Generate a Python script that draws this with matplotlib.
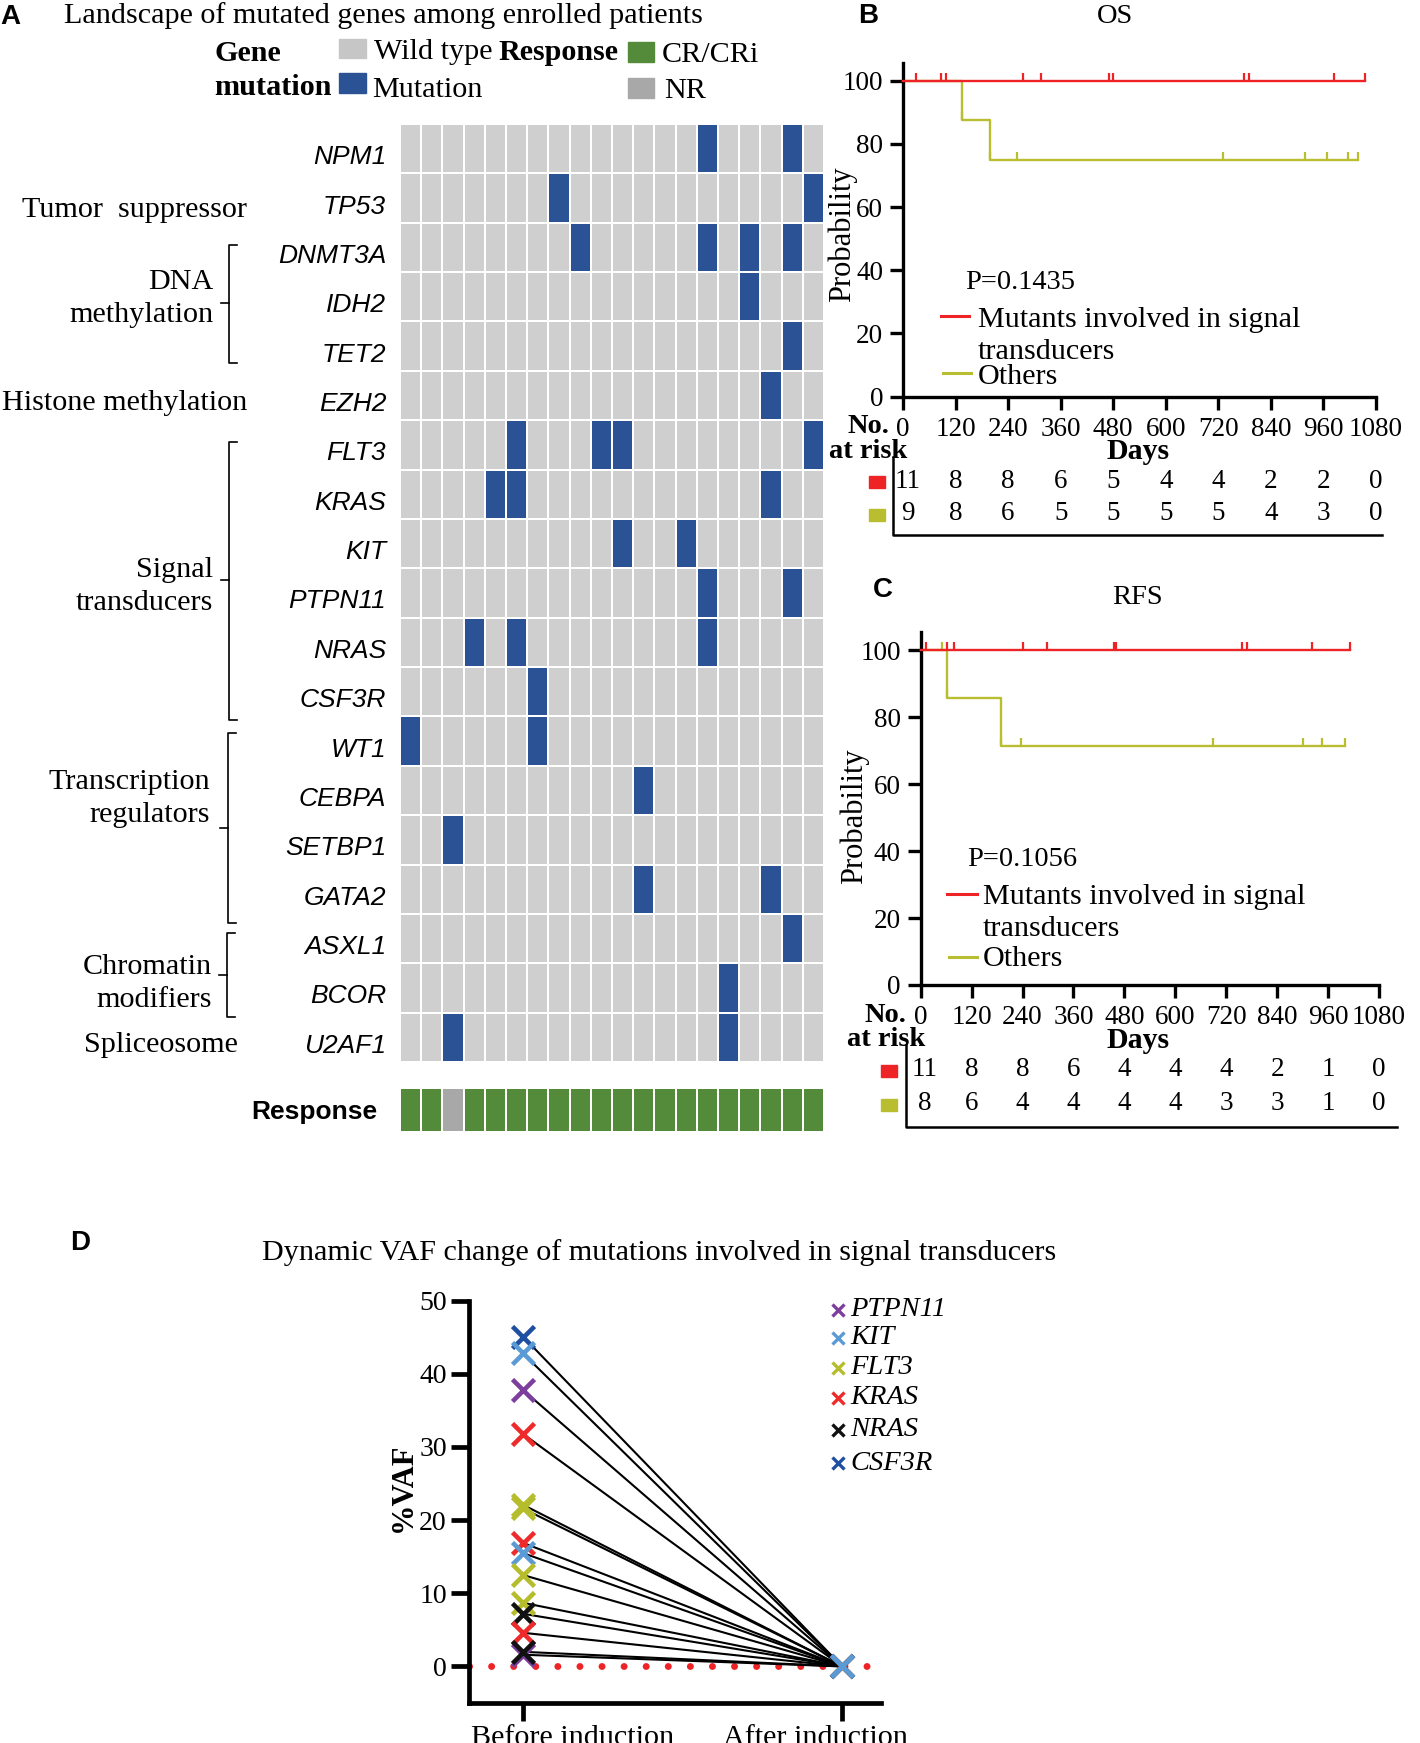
import numpy as np
import matplotlib
matplotlib.use('Agg')
import matplotlib.pyplot as plt
from matplotlib.colors import ListedColormap
from matplotlib.patches import Rectangle
from matplotlib.transforms import blended_transform_factory, ScaledTranslation

# ---------------- data ----------------
genes = ['NPM1', 'TP53', 'DNMT3A', 'IDH2', 'TET2', 'EZH2', 'FLT3', 'KRAS', 'KIT',
         'PTPN11', 'NRAS', 'CSF3R', 'WT1', 'CEBPA', 'SETBP1', 'GATA2', 'ASXL1',
         'BCOR', 'U2AF1']
n_patients = 20
mutated_patients = {
    'NPM1': [14, 18], 'TP53': [7, 19], 'DNMT3A': [8, 14, 16, 18], 'IDH2': [16],
    'TET2': [18], 'EZH2': [17], 'FLT3': [5, 9, 10, 19], 'KRAS': [4, 5, 17],
    'KIT': [10, 13], 'PTPN11': [14, 18], 'NRAS': [3, 5, 14], 'CSF3R': [6],
    'WT1': [0, 6], 'CEBPA': [11], 'SETBP1': [2], 'GATA2': [11, 17],
    'ASXL1': [18], 'BCOR': [15], 'U2AF1': [2, 15]}
response = ['CR/CRi', 'CR/CRi', 'NR'] + ['CR/CRi'] * 17

# gene categories: (label lines, first row, last row, bracket?)
categories = [
    (['Tumor  suppressor'], 1, 1, False),
    (['DNA', 'methylation'], 2, 4, True),
    (['Histone methylation'], 5, 5, False),
    (['Signal', 'transducers'], 6, 11, True),
    (['Transcription', 'regulators'], 12, 15, True),
    (['Chromatin', 'modifiers'], 16, 17, True),
    (['Spliceosome'], 18, 18, False),
]

day_ticks = list(range(0, 1081, 120))
# OS
os_mut_end = 1056
os_mut_censor = [30, 86, 99, 274, 316, 470, 479, 779, 791, 984, 1056]
os_oth_events = [135, 198]
os_oth_surv = [100, 87.5, 75.0]
os_oth_end = 1039
os_oth_censor = [135, 198, 260, 731, 918, 969, 1016, 1039]
os_risk_mut = [11, 8, 8, 6, 5, 4, 4, 2, 2, 0]
os_risk_oth = [9, 8, 6, 5, 5, 5, 5, 4, 3, 0]
os_p = 'P=0.1435'
# RFS
rfs_mut_end = 1011
rfs_mut_censor = [12, 61, 78, 240, 297, 456, 460, 758, 768, 922, 1011]
rfs_oth_events = [61, 189]
rfs_oth_surv = [100, 85.7, 71.4]
rfs_oth_end = 999
rfs_oth_censor = [51, 61, 189, 236, 689, 900, 946, 999]
rfs_risk_mut = [11, 8, 8, 6, 4, 4, 4, 2, 1, 0]
rfs_risk_oth = [8, 6, 4, 4, 4, 4, 3, 3, 1, 0]
rfs_p = 'P=0.1056'

# VAF
vaf_gene = ['CSF3R', 'KIT', 'PTPN11', 'KRAS', 'FLT3', 'FLT3', 'KRAS', 'KIT',
            'FLT3', 'FLT3', 'NRAS', 'KRAS', 'PTPN11', 'NRAS']
vaf_before = [45.1, 42.8, 37.8, 31.8, 22.1, 21.6, 16.9, 15.5, 12.5, 8.7, 7.2, 4.6, 1.6, 2.0]
vaf_after = [0] * 14
vaf_legend = ['PTPN11', 'KIT', 'FLT3', 'KRAS', 'NRAS', 'CSF3R']
vaf_timepoints = ['Before induction', 'After induction']

# ---------------- style ----------------
W, H = 1420, 1743
SERIF = 'Liberation Serif'
SANS = 'Liberation Sans'
plt.rcParams['font.family'] = [SERIF, 'DejaVu Serif']
GRAY = '#CFCFCF'
BLUE = '#2A5294'
GREEN = '#538B3A'
NRGRAY = '#A8A8A8'
RED = '#EE2326'
OLIVE = '#B9BD30'
vaf_colors = {'PTPN11': '#7D3F9E', 'KIT': '#5B9BD5', 'FLT3': '#B5BD2C',
              'KRAS': '#EE2A2A', 'NRAS': '#111111', 'CSF3R': '#1F4FA0'}
FS = 21.7  # serif label size

fig = plt.figure(figsize=(W / 100, H / 100), dpi=100)


def add_ax(x0, y0, x1, y1):
    return fig.add_axes([x0 / W, 1 - y1 / H, (x1 - x0) / W, (y1 - y0) / H])


def shift(text, dx_px, dy_px):
    text.set_transform(text.get_transform() +
                       ScaledTranslation(dx_px / 100, -dy_px / 100, fig.dpi_scale_trans))


# ---------------- heatmap ----------------
hm = add_ax(400, 124, 824, 1062)
mat = np.zeros((len(genes), n_patients))
for i, g in enumerate(genes):
    for c in mutated_patients[g]:
        mat[i, c] = 1
hm.pcolormesh(np.arange(n_patients + 1), np.arange(len(genes) + 1), mat,
              cmap=ListedColormap([GRAY, BLUE]), vmin=0, vmax=1,
              edgecolors='white', linewidth=1.2)
hm.set_xlim(0, n_patients)
hm.set_ylim(len(genes), 0)
for s in hm.spines.values():
    s.set_visible(False)
hm.set_xticks([])
hm.set_yticks(np.arange(len(genes)) + 0.5)
hm.set_yticklabels(genes, fontfamily=SANS, fontstyle='italic', fontsize=19)
hm.tick_params(axis='y', length=0, pad=10)
for t in hm.get_yticklabels():
    shift(t, 0, 6)

rs = add_ax(400, 1088, 824, 1132)
rcode = np.array([[0 if r == 'CR/CRi' else 1 for r in response]])
rs.pcolormesh(np.arange(n_patients + 1), [0, 1], rcode,
              cmap=ListedColormap([GREEN, NRGRAY]), vmin=0, vmax=1,
              edgecolors='white', linewidth=1.2)
rs.set_xlim(0, n_patients)
rs.set_ylim(0, 1)
for s in rs.spines.values():
    s.set_visible(False)
rs.set_xticks([])
rs.set_yticks([0.5])
rs.set_yticklabels(['Response'], fontfamily=SANS, fontweight='bold', fontsize=19)
rs.tick_params(axis='y', length=0, pad=16)


# ---------------- KM panels ----------------
def km(ax, mut_end, mut_cens, oth_ev, oth_surv, oth_end, oth_cens):
    ax.plot([0, mut_end], [100, 100], color=RED, lw=1.7, clip_on=False, zorder=3)
    ax.plot(mut_cens, [100] * len(mut_cens), ls='none', marker=2, ms=5.5, mew=1.6,
            color=RED, clip_on=False, zorder=3)
    xs = [0] + oth_ev + [oth_end]
    ys = oth_surv + [oth_surv[-1]]
    ax.step(xs, ys, where='post', color=OLIVE, lw=1.7, clip_on=False, zorder=2)
    cy = [oth_surv[np.searchsorted(oth_ev, t, side='right')] for t in oth_cens]
    ax.plot(oth_cens, cy, ls='none', marker=2, ms=5.5, mew=1.6, color=OLIVE,
            clip_on=False, zorder=2)
    ax.set_xlim(0, 1080)
    ax.set_ylim(0, 105.6)
    for s in ['top', 'right']:
        ax.spines[s].set_visible(False)
    for s in ['left', 'bottom']:
        ax.spines[s].set_linewidth(2.4)
    ax.set_xticks(day_ticks, [str(d) for d in day_ticks], fontfamily=SERIF)
    ax.set_yticks(range(0, 101, 20), [str(v) for v in range(0, 101, 20)], fontfamily=SERIF)
    ax.tick_params(direction='out', length=9.4, width=2.4, pad=5, labelsize=19.5)
    ax.patch.set_alpha(0)


kmB = add_ax(903, 63, 1376, 396.7)
km(kmB, os_mut_end, os_mut_censor, os_oth_events, os_oth_surv, os_oth_end, os_oth_censor)
kmC = add_ax(920.7, 631.7, 1379, 985)
km(kmC, rfs_mut_end, rfs_mut_censor, rfs_oth_events, rfs_oth_surv, rfs_oth_end, rfs_oth_censor)

# ---------------- VAF panel ----------------
axD = add_ax(469, 1300.7, 881, 1703)
for b, a in zip(vaf_before, vaf_after):
    axD.plot([0, 1], [b, a], color='black', lw=1.5, zorder=2)
axD.plot([-0.169, 1.087], [0, 0], color=RED, lw=5.0, ls=(0, (0.01, 3.17)),
         dash_capstyle='round', zorder=1, clip_on=False)
for g, b in zip(vaf_gene, vaf_before):
    axD.plot([0], [b], ls='none', marker='x', ms=15.5, mew=3.3, color=vaf_colors[g], zorder=3)
order_after = [k for k in range(len(vaf_gene)) if vaf_gene[k] != 'KIT'] + \
              [k for k in range(len(vaf_gene)) if vaf_gene[k] == 'KIT']
for k in order_after:
    axD.plot([1], [vaf_after[k]], ls='none', marker='x', ms=15.5, mew=3.3,
             color=vaf_colors[vaf_gene[k]], zorder=3)
axD.set_xlim(-0.169, 1.122)
axD.set_ylim(-5, 50)
for s in ['top', 'right']:
    axD.spines[s].set_visible(False)
for s in ['left', 'bottom']:
    axD.spines[s].set_linewidth(3.4)
axD.spines['left'].set_bounds(-5, 50)
axD.set_yticks(range(0, 51, 10), [str(v) for v in range(0, 51, 10)], fontfamily=SERIF)
axD.set_xticks([0, 1], vaf_timepoints, fontfamily=SERIF, fontsize=FS)
axD.tick_params(direction='out', length=13, width=3.4, pad=3)
axD.tick_params(axis='y', labelsize=20)
xl = axD.get_xticklabels()
shift(xl[0], 50, 0)
shift(xl[1], -27, 0)
axD.patch.set_alpha(0)

# ---------------- overlay (pixel coords) ----------------
ov = fig.add_axes([0, 0, 1, 1])
ov.set_xlim(0, W)
ov.set_ylim(H, 0)
ov.axis('off')


def T(x, y, s, **kw):
    kw.setdefault('va', 'center')
    kw.setdefault('fontsize', FS)
    ov.text(x, y, s, **kw)


# Panel A header
T(0, 17, 'A', fontfamily=SANS, fontweight='bold', fontsize=20)
T(64, 16, 'Landscape of mutated genes among enrolled patients')
T(214, 53, 'Gene', fontweight='bold')
T(214, 87, 'mutation', fontweight='bold')
ov.add_patch(Rectangle((339, 39), 27, 19, color='#C6C6C6'))
ov.add_patch(Rectangle((339, 73), 27, 20, color=BLUE))
T(374, 52, 'Wild type')
T(372, 90, 'Mutation')
T(498, 52, 'Response', fontweight='bold')
ov.add_patch(Rectangle((628, 42), 26, 20, color=GREEN))
ov.add_patch(Rectangle((628, 78), 26, 20, color=NRGRAY))
T(662, 55, 'CR/CRi')
T(664, 91, 'NR')

# categories
label_pos = {
    'Tumor  suppressor': (247, 210), 'DNA': (213, 282), 'methylation': (213, 315),
    'Histone methylation': (247, 403), 'Signal': (213, 570), 'transducers': (213, 603),
    'Transcription': (210, 782), 'regulators': (210, 815), 'Chromatin': (212, 967),
    'modifiers': (212, 1000), 'Spliceosome': (238, 1045)}
brackets = {1: (229, 245, 303, 363), 3: (229, 442, 580, 720),
            4: (228, 733, 828, 923), 5: (227, 933, 975, 1017)}
for ci, (lines, r0, r1, br) in enumerate(categories):
    for ln in lines:
        x, y = label_pos[ln]
        T(x, y, ln, ha='right')
    if br:
        bx, top, mid, bot = brackets[ci]
        ov.plot([bx + 8, bx, bx, bx + 8], [top, top, bot, bot], color='black', lw=1.2)
        ov.plot([bx - 8, bx], [mid, mid], color='black', lw=1.2)

# KM text
for (ax, lab, lx, ly, title, tx, ty, ylx, yly, p, px, py, lg, risk_m, risk_o,
     r1, r2, sqx, box) in [
    (kmB, 'B', 868, 16, 'OS', 1115, 16, 842, 234, os_p, 965, 282,
     (941, 969, 316, 978, 320, 352, 943, 971, 373, 377), os_risk_mut, os_risk_oth,
     481, 514, 869, (893, 457, 535, 1382)),
    (kmC, 'C', 883, 590, 'RFS', 1137, 597, 854, 816, rfs_p, 967, 859,
     (947, 977, 894, 983, 897, 929, 949, 977, 957, 959), rfs_risk_mut, rfs_risk_oth,
     1070, 1104, 881, (906, 1045, 1127, 1397))]:
    T(lx, ly, lab, fontfamily=SANS, fontweight='bold', fontsize=20, ha='center')
    T(tx, ty, title, ha='center', fontsize=20.5)
    T(ylx, yly, 'Probability', rotation=90, ha='center', fontsize=22)
    T(px, py, p, fontsize=20.5)
    rx0, rx1, ry, tx0, tty, tty2, gx0, gx1, gy, gty = lg
    ov.plot([rx0, rx1], [ry, ry], color=RED, lw=2.2)
    T(tx0, tty, 'Mutants involved in signal')
    T(tx0, tty2, 'transducers')
    ov.plot([gx0, gx1], [gy, gy], color=OLIVE, lw=2.2)
    T(tx0, gty, 'Others')
    axis_y = H - ax.get_position().y0 * H
    xlab_y = axis_y + 30
    T(ax.get_position().x0 * W - 35, xlab_y, 'No.', fontweight='bold', ha='center', fontsize=20.5)
    T(ax.get_position().x0 * W - 35, xlab_y + 25, 'at risk', fontweight='bold', ha='center', fontsize=20.5)
    T(1138, xlab_y + 25, 'Days', fontweight='bold', ha='center', fontsize=21.5)
    tr = blended_transform_factory(ax.transData, ov.transData)
    for k, d in enumerate(day_ticks):
        dx = d + (10 if k == 0 else 0)
        ax.text(dx, r1, str(risk_m[k]), transform=tr, ha='center', va='center', fontsize=19.5)
        ax.text(dx, r2, str(risk_o[k]), transform=tr, ha='center', va='center', fontsize=19.5)
    ov.add_patch(Rectangle((sqx, r1 - 5), 16, 12, color=RED))
    ov.add_patch(Rectangle((sqx, r2 - 5), 16, 12, color=OLIVE))
    bxv, by0, by1, bxr = box
    ov.plot([bxv, bxv, bxr], [by0, by1, by1], color='black', lw=1.8)

# Panel D text
T(80, 1243, 'D', fontfamily=SANS, fontweight='bold', fontsize=20, ha='center')
T(659, 1253, 'Dynamic VAF change of mutations involved in signal transducers', ha='center')
T(403, 1487, '%VAF', rotation=90, ha='center', fontweight='bold', fontsize=22)
leg_y = [1310, 1338, 1368, 1398, 1430, 1463]
for g, y in zip(vaf_legend, leg_y):
    ov.plot([838], [y], ls='none', marker='x', ms=8.5, mew=2.4, color=vaf_colors[g])
    T(850, y, g, fontstyle='italic', fontsize=20.5)

fig.savefig('out.png', dpi=100)
